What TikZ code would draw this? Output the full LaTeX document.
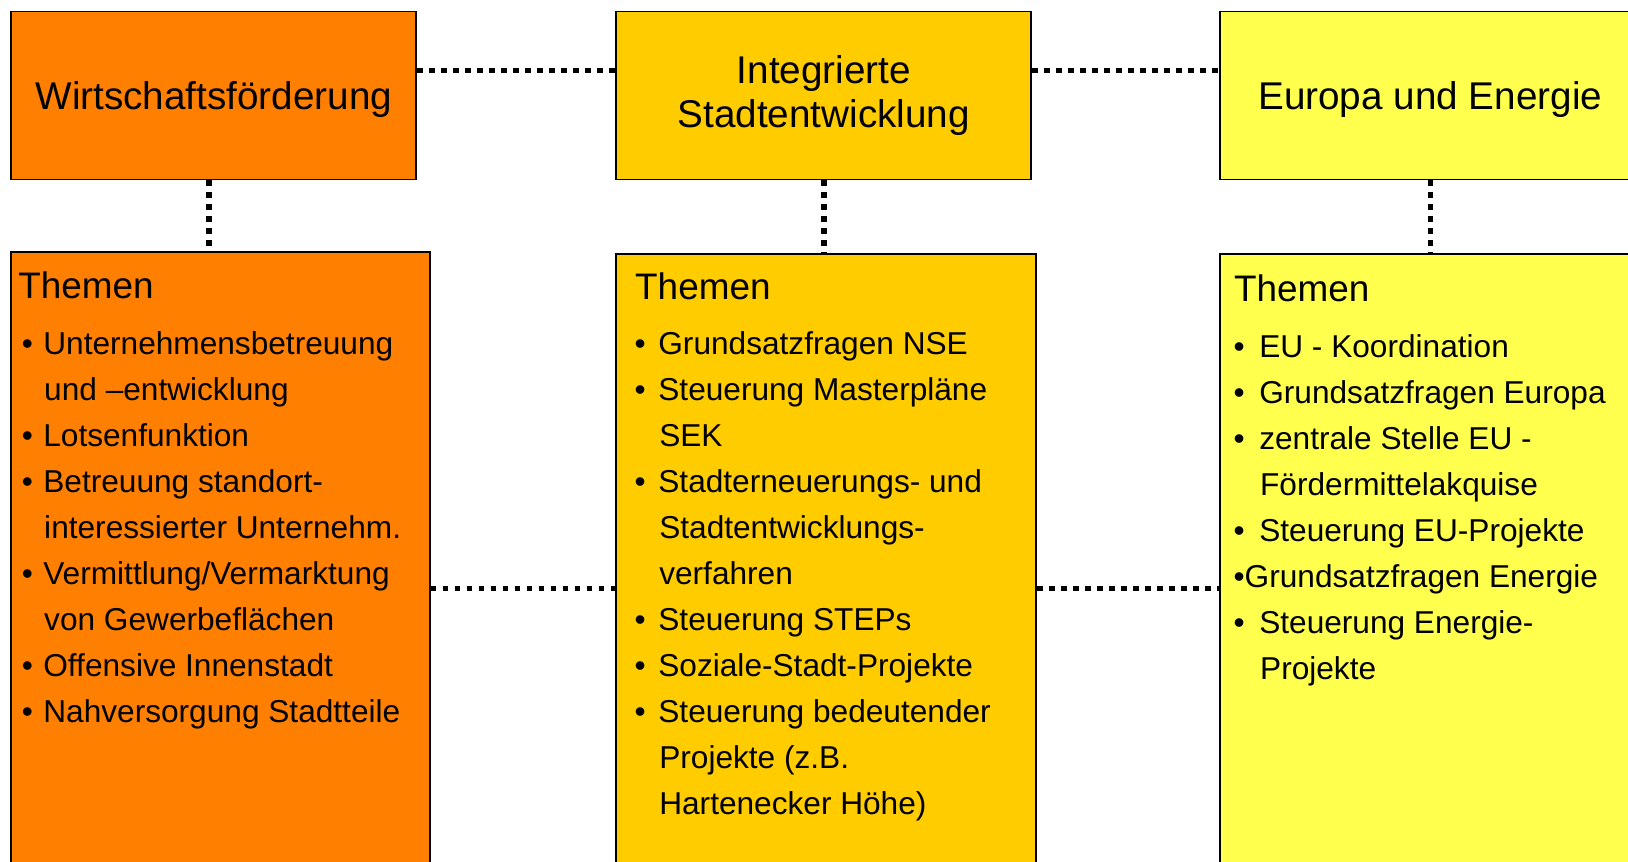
\documentclass[tikz,border=0pt]{standalone}
\usepackage{fontspec}
\setmainfont{Liberation Sans}
\usetikzlibrary{positioning}

\definecolor{wifoorange}{RGB}{255,128,0}
\definecolor{stadtgold}{RGB}{255,204,0}
\definecolor{europagelb}{RGB}{255,255,77}

% bullet line and follow-up line of a topic list
\newcommand{\bulgap}{12.3pt}
\newcommand{\itm}{\strut\makebox[\bulgap][l]{\textbullet}}
\newcommand{\follow}{\strut\hspace*{\dimexpr\bulgap+0.5pt\relax}}

\tikzset {
  box/.style = {
    draw = black,
    line width = 1.1pt,
    rectangle,
    inner sep = 0
  },
  % department on top
  dept/.style = {
    box,
    minimum width = 8.1cm,
    minimum height = 3.36cm,
    align = center,
    font = \fontsize{22}{25}\selectfont
  },
  % topic box below
  topics/.style = {
    box,
    minimum width = 8.4cm,
    minimum height = 13cm
  },
  heading/.style = {
    inner sep = 0,
    font = \fontsize{21}{25}\selectfont
  },
  items/.style = {
    inner sep = 0,
    align = left,
    font = \fontsize{18}{26.2}\selectfont
  },
  bullet gap/.code = {\renewcommand{\bulgap}{#1}},
  % dotted link between boxes
  link/.style = {
    draw = black,
    line width = 0.11cm,
    dash pattern = on 0.11cm off 0.13cm
  }
}

\begin{document}
\begin{tikzpicture}
    \useasboundingbox (0,0) rectangle (32.56,-17.22);
    \clip (0,0) rectangle (32.56,-17.22);

    % departments
    \node[dept, fill=wifoorange, text depth=0pt, anchor=north west] (wifo) at (0.208,-0.21) {Wirtschaftsförderung};
    \node[dept, fill=stadtgold, minimum width=8.3cm] (stadt)
      [right=3.96cm of wifo.north east, anchor=north west] {Integrierte\\Stadtentwicklung};
    \node[dept, fill=europagelb, text depth=0pt, minimum width=8.4cm] (europa)
      [right=3.74cm of stadt.north east, anchor=north west] {Europa und Energie};

    % topic boxes
    \node[topics, fill=wifoorange, minimum width=8.37cm] (wifo-themen)
      [below=1.42cm of wifo.south west, anchor=north west] {};
    \node[topics, fill=stadtgold] (stadt-themen)
      [below=1.45cm of stadt.south west, anchor=north west] {};
    \node[topics, fill=europagelb] (europa-themen)
      [below=1.45cm of europa.south west, anchor=north west] {};

    \node[heading, anchor=base west] (wifo-head)
      at ([xshift=0.15cm, yshift=-0.94cm]wifo-themen.north west) {Themen};
    \node[heading, anchor=base west] (stadt-head)
      at ([xshift=0.39cm, yshift=-0.93cm]stadt-themen.north west) {Themen};
    \node[heading, anchor=base west] (europa-head)
      at ([xshift=0.29cm, yshift=-0.97cm]europa-themen.north west) {Themen};

    \node[items, anchor=north west] (wifo-list)
      at ([xshift=0.22cm, yshift=-1.41cm]wifo-themen.north west) {
      \itm Unternehmensbetreuung\\
      \follow und –entwicklung\\
      \itm Lotsenfunktion\\
      \itm Betreuung standort-\\
      \follow interessierter Unternehm.\\
      \itm Vermittlung/Vermarktung\\
      \follow von Gewerbeflächen\\
      \itm Offensive Innenstadt\\
      \itm Nahversorgung Stadtteile};

    \node[items, bullet gap=13.5pt, anchor=north west] (stadt-list)
      at ([xshift=0.38cm, yshift=-1.37cm]stadt-themen.north west) {
      \itm Grundsatzfragen NSE\\
      \itm Steuerung Masterpläne\\
      \follow SEK\\
      \itm Stadterneuerungs- und\\
      \follow Stadtentwicklungs-\\
      \follow verfahren\\
      \itm Steuerung STEPs\\
      \itm Soziale-Stadt-Projekte\\
      \itm Steuerung bedeutender\\
      \follow Projekte (z.B.\\
      \follow Hartenecker Höhe)};

    \node[items, bullet gap=14.6pt, anchor=north west] (europa-list)
      at ([xshift=0.28cm, yshift=-1.44cm]europa-themen.north west) {
      \itm EU - Koordination\\
      \itm Grundsatzfragen Europa\\
      \itm zentrale Stelle EU -\\
      \follow Fördermittelakquise\\
      \itm Steuerung EU-Projekte\\
      \strut\textbullet Grundsatzfragen Energie\\
      \itm Steuerung Energie-\\
      \follow Projekte};

    % links between the departments
    \coordinate (top-link) at ([yshift=-1.2cm]wifo.north east);
    \draw[link] (top-link) -- (top-link -| stadt.west);
    \draw[link] (top-link -| stadt.east) -- (top-link -| europa.west);

    % links down to the topics
    \coordinate (wifo-down) at ([xshift=-0.1cm]wifo.south);
    \draw[link] (wifo-down) -- (wifo-themen.north -| wifo-down);
    \draw[link] (stadt.south) -- (stadt-themen.north -| stadt.south);
    \draw[link] (europa.south) -- (europa-themen.north -| europa.south);

    % links between the topic boxes
    \coordinate (mid-link) at ([yshift=-6.74cm]wifo-themen.north east);
    \draw[link] (mid-link) -- (mid-link -| stadt-themen.west);
    \draw[link] (mid-link -| stadt-themen.east) -- (mid-link -| europa-themen.west);
\end{tikzpicture}
\end{document}
